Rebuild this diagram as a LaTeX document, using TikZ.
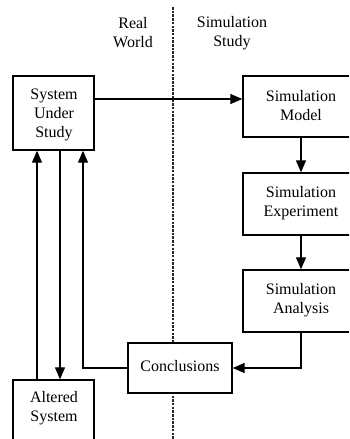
\documentclass[tikz,border=0pt]{standalone}
\usepackage{fontspec}
\setmainfont{Liberation Serif}
\usetikzlibrary{arrows.meta}
\begin{document}
\begin{tikzpicture}[x=1pt,y=-1pt,
  box/.style={draw,line width=1.4pt,fill=white,inner sep=0pt},
  txt/.style={align=center,font=\fontsize{16}{19}\selectfont,inner sep=0pt},
  arr/.style={line width=1.3pt,-{Triangle[length=12pt,width=10pt]}},
  ln/.style={line width=1.3pt}]
\useasboundingbox (0,0) rectangle (349,439);
\clip (0,0) rectangle (349,439);
\draw[line width=1.3pt,dash pattern=on 2.5pt off 1.2pt,black!85] (173,7) -- (173,439);
\node[txt] (rw) at (133,33) {Real\\World};
\node[txt] (ss) at (232,33) {Simulation\\Study};
\node[box,minimum width=81pt,minimum height=74pt] (sus) at (53.5,113) {};
\node[txt] (sust) at (54,115) {System\\Under\\Study};
\node[box,minimum width=116pt,minimum height=61pt] (model) at (301,106.5) {};
\node[txt] (modelt) at (301,105.5) {Simulation\\Model};
\node[box,minimum width=116pt,minimum height=62pt] (exp) at (301,204) {};
\node[txt] (expt) at (301,203) {Simulation\\Experiment};
\node[box,minimum width=116pt,minimum height=62pt] (anal) at (301,301) {};
\node[txt] (analt) at (301,300) {Simulation\\Analysis};
\node[box,minimum width=104pt,minimum height=50pt] (concl) at (180,368) {};
\node[txt] (conclt) at (180,366) {Conclusions};
\node[box,minimum width=81pt,minimum height=65pt] (alt) at (53.5,412.5) {};
\node[txt] (altt) at (54,408.5) {Altered\\System};
\coordinate (y99) at (0,99);
\coordinate (c37) at (37,0);
\coordinate (c60) at (60,0);
\coordinate (c83) at (83,0);
\draw[arr] (sus.east |- y99) -- (model.west |- y99);
\draw[arr] (model.south) -- (exp.north);
\draw[arr] (exp.south) -- (anal.north);
\draw[arr] (anal.south) |- (concl.east);
\draw[arr] (concl.west) -| (c83 |- sus.south);
\draw[arr] (c37 |- alt.north) -- (c37 |- sus.south);
\draw[arr] (c60 |- sus.south) -- (c60 |- alt.north);
\end{tikzpicture}
\end{document}
